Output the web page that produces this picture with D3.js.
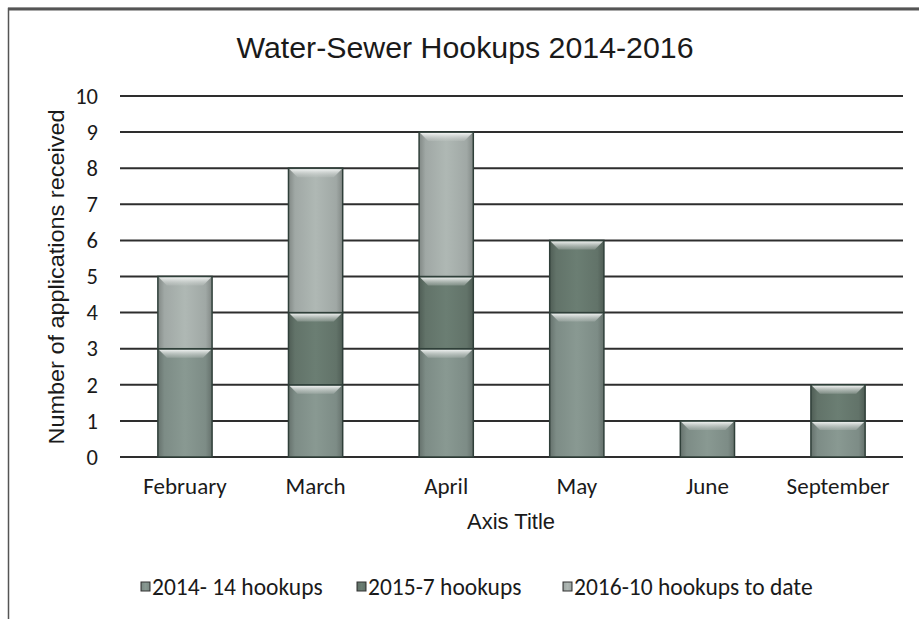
<!DOCTYPE html>
<html><head><meta charset="utf-8">
<script src="https://cdn.jsdelivr.net/npm/d3@7"></script>
<style>body{margin:0;background:#fff;}svg{display:block;}</style>
</head><body>
<script>
const categories = ["February","March","April","May","June","September"];
const seriesNames = ["2014- 14 hookups","2015-7 hookups","2016-10 hookups to date"];
const s2014 = [3,2,3,4,1,1];
const s2015 = [0,2,2,2,0,1];
const s2016 = [2,4,4,0,0,0];
const yTicks = [0,1,2,3,4,5,6,7,8,9,10];
const colors = ["#7d8c86","#627369","#a0a8a5"];

const W=919,H=619;
const svg=d3.select("body").append("svg").attr("width",W).attr("height",H);
const defs=svg.append("defs");
colors.forEach((c,i)=>{
  const g=defs.append("linearGradient").attr("id","g"+i).attr("x1","0").attr("x2","1").attr("y1","0").attr("y2","0");
  g.append("stop").attr("offset","0").attr("stop-color",d3.color(c).darker(0.6));
  g.append("stop").attr("offset","0.12").attr("stop-color",c);
  g.append("stop").attr("offset","0.5").attr("stop-color",d3.color(c).brighter(0.25));
  g.append("stop").attr("offset","0.88").attr("stop-color",c);
  g.append("stop").attr("offset","1").attr("stop-color",d3.color(c).darker(0.6));
});
const hl=defs.append("linearGradient").attr("id","hl").attr("x1","0").attr("x2","0").attr("y1","0").attr("y2","1");
hl.append("stop").attr("offset","0").attr("stop-color","#f4f6f5").attr("stop-opacity",0.95);
hl.append("stop").attr("offset","1").attr("stop-color","#c0c6c3").attr("stop-opacity",0.3);

// frame
svg.append("rect").attr("x",8.5).attr("y",8.5).attr("width",W+10).attr("height",H+10)
  .attr("fill","none").attr("stroke","#555").attr("stroke-width",1.5);
svg.append("line").attr("x1",8).attr("x2",W).attr("y1",9).attr("y2",9).attr("stroke","#555").attr("stroke-width",3);

const m={l:120,r:16,t:96,b:162};
const x=d3.scaleBand().domain(categories).range([m.l,W-m.r]).paddingInner(0.585).paddingOuter(0.29);
const y=d3.scaleLinear().domain([0,10]).range([457,96]);

// grid
svg.append("g").selectAll("line").data(yTicks).join("line")
  .attr("x1",m.l).attr("x2",903).attr("y1",d=>y(d)).attr("y2",d=>y(d))
  .attr("stroke","#2e2e2e").attr("stroke-width",2);

const tickFont="Carlito, Lato, 'Open Sans', sans-serif";
// y axis labels
const ya=svg.append("g").attr("transform",`translate(${m.l},0)`)
  .call(d3.axisLeft(y).tickValues(yTicks).tickSize(0).tickPadding(22).tickFormat(d3.format("d")));
ya.select(".domain").remove();
ya.selectAll("text").attr("font-family",tickFont).attr("font-size",22.5).attr("fill","#1a1a1a");

// x axis labels
const xa=svg.append("g").attr("transform",`translate(0,${y(0)})`)
  .call(d3.axisBottom(x).tickSize(0).tickPadding(21));
xa.select(".domain").remove();
xa.selectAll("text").attr("font-family",tickFont).attr("font-size",23).attr("fill","#1a1a1a");

// stacked bars
const rows=categories.map((c,i)=>({cat:c,a:s2014[i],b:s2015[i],c:s2016[i]}));
const stack=d3.stack().keys(["a","b","c"])(rows);
const bw=x.bandwidth();
stack.forEach((layer,li)=>{
  const g=svg.append("g");
  layer.forEach(d=>{
    if(d[1]-d[0]<=0) return;
    const x0=x(d.data.cat), y0=y(d[1]), h=y(d[0])-y(d[1]);
    g.append("rect").attr("x",x0).attr("y",y0).attr("width",bw).attr("height",h)
      .attr("fill",`url(#g${li})`).attr("stroke","#2f3f39").attr("stroke-width",1.5);
    const bev=9;
    g.append("path").attr("d",`M${x0+1},${y0+1}L${x0+bw-1},${y0+1}L${x0+bw-bev},${y0+bev}L${x0+bev},${y0+bev}Z`)
      .attr("fill","url(#hl)");
  });
});

// title
svg.append("text").attr("x",465).attr("y",58).attr("text-anchor","middle")
  .attr("font-family","'Liberation Sans', Arial, sans-serif").attr("font-size",29).attr("fill","#1a1a1a")
  .attr("textLength",457).attr("lengthAdjust","spacingAndGlyphs")
  .text("Water-Sewer Hookups 2014-2016");

// axis titles
svg.append("text").attr("x",511).attr("y",529).attr("text-anchor","middle")
  .attr("font-family","'Liberation Sans', Arial, sans-serif").attr("font-size",22).attr("fill","#1a1a1a").text("Axis Title");
svg.append("text").attr("transform","translate(64,277) rotate(-90)").attr("text-anchor","middle")
  .attr("font-family","'Liberation Sans', Arial, sans-serif").attr("font-size",22).attr("fill","#1a1a1a")
  .attr("textLength",335).attr("lengthAdjust","spacingAndGlyphs")
  .text("Number of applications received");

// legend
const legX=[141,357,563];
seriesNames.forEach((n,i)=>{
  const g=svg.append("g").attr("transform",`translate(${legX[i]},${587})`);
  g.append("rect").attr("x",0).attr("y",-5).attr("width",9).attr("height",9)
    .attr("fill",`url(#g${i})`).attr("stroke","#333").attr("stroke-width",1);
  g.append("text").attr("x",11).attr("y",8).attr("font-family",tickFont)
    .attr("font-size",23.5).attr("fill","#1a1a1a").text(n);
});
</script>
</body></html>
